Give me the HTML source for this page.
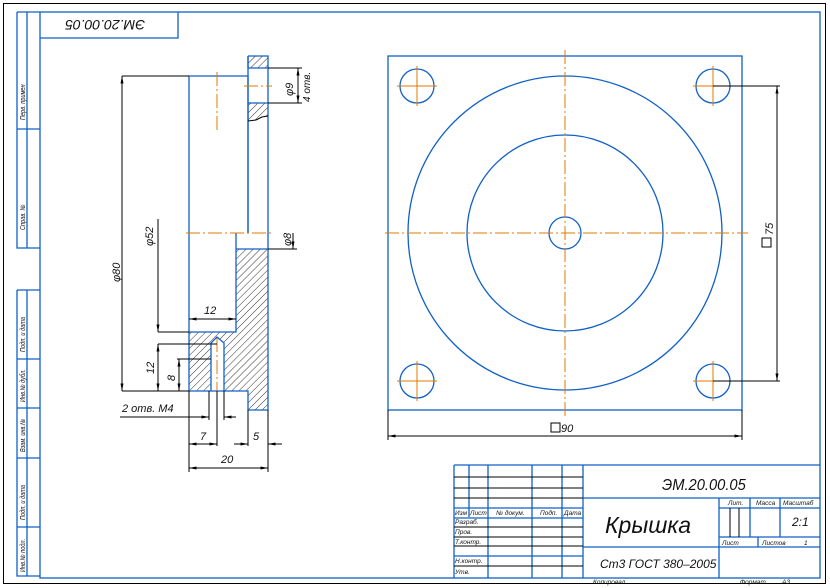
<!DOCTYPE html>
<html><head><meta charset="utf-8"><style>
html,body{margin:0;padding:0;background:#fff}
svg{display:block}
text{font-family:"Liberation Sans",sans-serif;font-style:italic;fill:#111}
.b{stroke:#1060c8;fill:none;stroke-width:1.3}
.k{stroke:#000;fill:none;stroke-width:1}
.o{stroke:#e07800;fill:none;stroke-width:1;stroke-dasharray:14 3 2 3}
.h{stroke:#000;stroke-width:0.8}
</style></head><body>
<svg width="830" height="588" viewBox="0 0 830 588" xmlns="http://www.w3.org/2000/svg">
<defs>
<pattern id="hat" width="5" height="5" patternUnits="userSpaceOnUse" patternTransform="rotate(45)">
<line x1="0" y1="0" x2="0" y2="5" class="h"/>
</pattern>
<marker id="a" viewBox="0 0 10 4" refX="10" refY="2" markerWidth="8" markerHeight="3" orient="auto-start-reverse"><path d="M0,0L10,2L0,4z" fill="#000"/></marker>
</defs>
<rect x="3.5" y="3.5" width="822" height="580" fill="none" stroke="#000" stroke-width="1"/>
<rect x="40" y="12" width="780" height="566" class="b"/>
<path class="b" d="M17,12V248H40M27,12V248M17,129H40M17,12H40M17,290H40M17,290V576H40M27,290V576M17,359H40M17,408H40M17,458H40M17,527H40"/>
<g font-size="7">
<text transform="translate(25,120) rotate(-90) scale(0.8,1)">Перв. примен</text>
<text transform="translate(25,230) rotate(-90) scale(0.8,1)">Справ. №</text>
<text transform="translate(25,352) rotate(-90) scale(0.8,1)">Подп. и дата</text>
<text transform="translate(25,402) rotate(-90) scale(0.8,1)">Инв.№ дубл.</text>
<text transform="translate(25,452) rotate(-90) scale(0.8,1)">Взам. инв.№</text>
<text transform="translate(25,520) rotate(-90) scale(0.8,1)">Подп. и дата</text>
<text transform="translate(25,572) rotate(-90) scale(0.8,1)">Инв.№ подл.</text>
</g>
<path class="b" d="M40,38H178V12"/>
<text font-size="14" transform="translate(145,20) rotate(180)">ЭМ.20.00.05</text>

<polygon points="189,332 236,332 236,249 268,249 268,410 248,410 248,391 189,391" fill="url(#hat)"/>
<rect x="211" y="343" width="13" height="48" fill="#fff"/>
<path d="M211,343L217,337L224,343z" fill="#fff"/>
<rect x="248" y="56" width="20" height="12" fill="url(#hat)"/>
<path d="M248,103H268V116L262,117L256,120L248,121z" fill="url(#hat)"/>
<path class="b" d="M248,56H268V410H248V391H189V76H248V233M248,56V68M236,233V332H189M236,249H268M248,68H268M248,103H268M211,391V343L217,337L224,343V391M189,332H236"/>
<path class="b" d="M248,56V233" />
<path class="k" d="M248,121L256,120L262,117L268,116" stroke-width="0.7"/>
<path class="o" d="M217,72V130M244,86H272M186,233H272M217,338V391"/>
<path class="k" d="M122,76H189M122,391H189"/>
<path class="k" d="M122,391V76" marker-end="url(#a)" marker-start="url(#a)"/>
<path class="k" d="M158,219V332" marker-end="url(#a)"/>
<path class="k" d="M158,332H189"/>
<path class="k" d="M158,344H217"/>
<path class="k" d="M158,391V344" marker-start="url(#a)" marker-end="url(#a)"/>
<path class="k" d="M177,359H211"/>
<path class="k" d="M179,359V391" marker-start="url(#a)" marker-end="url(#a)"/>
<path class="k" d="M189,319H236" marker-start="url(#a)" marker-end="url(#a)"/>
<path class="k" d="M209,391V420M224,391V420M217,391V446M189,391V472M268,410V472M248,410V446"/>
<path class="k" d="M120,417H209"/>
<path class="k" d="M200,417H209" marker-end="url(#a)"/>
<path class="k" d="M236,417H224" marker-end="url(#a)"/>
<path class="k" d="M189,444H217" marker-start="url(#a)" marker-end="url(#a)"/>
<path class="k" d="M234,444H248" marker-end="url(#a)"/>
<path class="k" d="M282,444H268" marker-end="url(#a)"/>
<path class="k" d="M189,468H268" marker-start="url(#a)" marker-end="url(#a)"/>
<path class="k" d="M268,68H302M268,103H302"/>
<path class="k" d="M298,68V103" marker-start="url(#a)" marker-end="url(#a)"/>
<path class="k" d="M268,249H297M293,233V249" marker-end="url(#a)"/>
<g font-size="11">
<text transform="translate(120,282) rotate(-90)">φ80</text>
<text transform="translate(153,246) rotate(-90)">φ52</text>
<text transform="translate(154,374) rotate(-90)">12</text>
<text transform="translate(175,381) rotate(-90)">8</text>
<text x="204" y="314">12</text>
<text x="122" y="412">2 отв. М4</text>
<text x="200" y="440">7</text>
<text x="253" y="440">5</text>
<text x="221" y="463">20</text>
<text transform="translate(293,96) rotate(-90)">φ9</text>
<text transform="translate(310,102) rotate(-90)" font-size="10">4 отв.</text>
<text transform="translate(291,246) rotate(-90)">φ8</text>
</g>

<rect x="388" y="56" width="354" height="354" class="b"/>
<g class="b" stroke-width="1">
<circle cx="565" cy="233" r="157"/>
<circle cx="565" cy="233" r="98"/>
<circle cx="565" cy="233" r="16"/>
<circle cx="417" cy="86" r="17"/>
<circle cx="713" cy="86" r="17"/>
<circle cx="417" cy="381" r="17"/>
<circle cx="713" cy="381" r="17"/>
</g>
<path class="o" d="M385,233H748M565,50V416"/>
<path stroke="#e07800" stroke-width="1" d="M397,86H437M417,66V106M693,86H733M713,66V106M397,381H437M417,361V401M693,381H733M713,361V401"/>
<path class="k" d="M713,86H780M713,381H780M388,410V440M742,410V440"/>
<path class="k" d="M777,86V381" marker-start="url(#a)" marker-end="url(#a)"/>
<path class="k" d="M388,436H742" marker-start="url(#a)" marker-end="url(#a)"/>
<rect x="762" y="238" width="9" height="9" fill="none" stroke="#000"/>
<text font-size="11" transform="translate(773,235) rotate(-90)">75</text>
<rect x="551" y="423" width="9" height="9" fill="none" stroke="#000"/>
<text font-size="11" x="561" y="432">90</text>

<g class="b">
<path d="M454,465H820M454,465V578M469,465V517M488,465V578M532,465V578M562,465V578M583,465V578M583,498H820M719,498V578M750,498V537M780,498V537M719,508H820M719,537H820M719,547H820M583,547H719M758,537V547"/>
<path d="M454,508H583M454,518H583M454,556H583"/>
</g>
<g class="k" stroke-width="0.8">
<path d="M454,477H583M454,488H583M454,498H583M454,527H583M454,537H583M454,546H583M454,566H583M730,508V537M739,508V537"/>
</g>
<g font-size="6.5">
<text x="455" y="515">Изм</text><text x="470" y="515">Лист</text><text x="496" y="515">№ докум.</text><text x="540" y="515">Подп.</text><text x="564" y="515">Дата</text>
<text x="455" y="524">Разраб.</text><text x="455" y="534">Пров.</text><text x="455" y="544">Т.контр.</text>
<text x="455" y="563">Н.контр.</text><text x="455" y="574">Утв.</text>
<text x="728" y="505">Лит.</text><text x="756" y="505">Масса</text><text x="783" y="505">Масштаб</text>
<text x="722" y="545">Лист</text><text x="762" y="545">Листов</text><text x="804" y="545">1</text>
<text x="593" y="584">Копировал</text><text x="740" y="584">Формат</text><text x="782" y="584">А3</text>
</g>
<text x="662" y="490" font-size="16" transform="translate(662,0) scale(0.92,1) translate(-662,0)">ЭМ.20.00.05</text>
<text x="605" y="533" font-size="23">Крышка</text>
<text x="600" y="568" font-size="12">Ст3 ГОСТ 380–2005</text>
<text x="792" y="526" font-size="12">2:1</text>
</svg>
</body></html>
